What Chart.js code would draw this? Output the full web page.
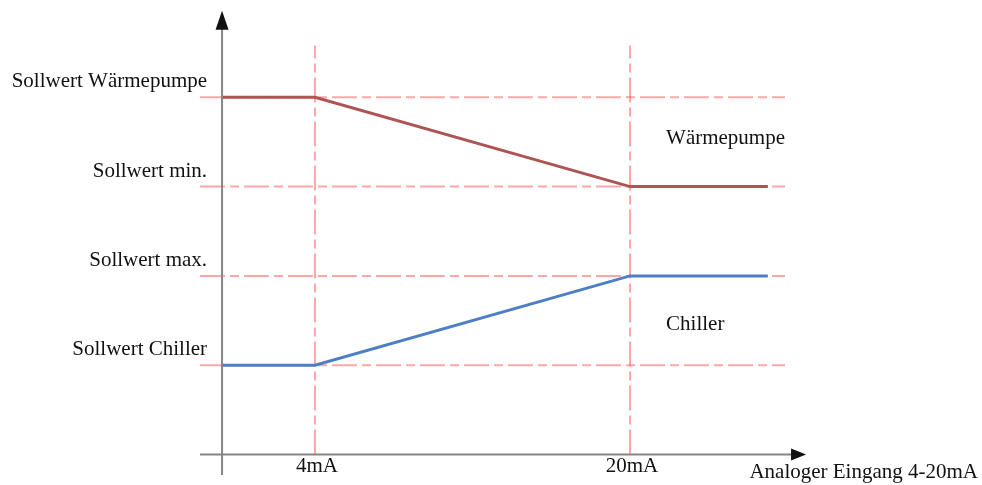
<!DOCTYPE html>
<html>
<head>
<meta charset="utf-8">
<script src="https://cdn.jsdelivr.net/npm/chart.js@4/dist/chart.umd.min.js"></script>
<style>
  html, body { margin: 0; padding: 0; background: #ffffff; }
  #wrap { width: 982px; height: 485px; }
</style>
</head>
<body>
<div id="wrap"><canvas id="chart" width="982" height="485"></canvas></div>
<script>
// Input current (mA) on x, setpoint levels on y (1 = Chiller ... 4 = Wärmepumpe)
const X_MIN = -1.84, X_MAX = 29.14;
const Y_MIN = -0.23, Y_MAX = 5.0;
const X_ORIGIN = -0.72;          // where the vertical axis crosses
const X_ARROW = 28.94;           // tip of the horizontal axis arrow
const Y_ARROW = 4.97;            // tip of the vertical axis arrow
const X_LINE_END = 27.0;         // end of the characteristic curves
const X_GUIDE_END = 27.87;       // end of the horizontal guide lines
const Y_GUIDE_TOP = 4.58;        // top of the vertical guide lines

const xTicks = [4, 20];
const xTickLabels = ['4mA', '20mA'];
const xTitle = 'Analoger Eingang 4-20mA';

const levels = [4, 3, 2, 1];
const levelLabels = ['Sollwert Wärmepumpe', 'Sollwert min.', 'Sollwert max.', 'Sollwert Chiller'];

const waermepumpeX = [X_ORIGIN, 4, 20, X_LINE_END];
const waermepumpeY = [4, 4, 3, 3];
const chillerX = [X_ORIGIN, 4, 20, X_LINE_END];
const chillerY = [1, 1, 2, 2];

const regionLabels = ['Wärmepumpe', 'Chiller'];
const regionX = [21.83, 21.83];
const regionY = [3.48, 1.39];

const GUIDE = 'rgba(255, 95, 95, 0.55)';
const GUIDE_DASH = [25, 5, 9, 5];
const FONT = '21px "Liberation Serif", "Times New Roman", serif';

const toPts = (xs, ys) => xs.map((x, i) => ({ x, y: ys[i] }));

// curves first so they are painted above the guide lines
const datasets = [];
datasets.push({
  label: 'Wärmepumpe', data: toPts(waermepumpeX, waermepumpeY),
  borderColor: '#ad5454', borderWidth: 3
});
datasets.push({
  label: 'Chiller', data: toPts(chillerX, chillerY),
  borderColor: '#4d7fc6', borderWidth: 3
});
levels.forEach(v => datasets.push({
  data: [{ x: X_MIN, y: v }, { x: X_GUIDE_END, y: v }],
  borderColor: GUIDE, borderWidth: 2, borderDash: GUIDE_DASH
}));
xTicks.forEach(v => datasets.push({
  data: [{ x: v, y: 0 }, { x: v, y: Y_GUIDE_TOP }],
  borderColor: GUIDE, borderWidth: 2, borderDash: GUIDE_DASH
}));

// Axes with arrowheads and all annotation text
const decor = {
  id: 'decor',
  afterDatasetsDraw(chart) {
    const ctx = chart.ctx;
    const xs = chart.scales.x, ys = chart.scales.y;
    const ox = xs.getPixelForValue(X_ORIGIN);
    const oy = ys.getPixelForValue(0);
    ctx.save();
    ctx.strokeStyle = '#858585';
    ctx.fillStyle = '#111111';
    ctx.lineWidth = 2;
    // vertical axis
    const yTip = ys.getPixelForValue(Y_ARROW);
    ctx.beginPath();
    ctx.moveTo(ox, ys.getPixelForValue(Y_MIN));
    ctx.lineTo(ox, yTip + 12);
    ctx.stroke();
    ctx.beginPath();
    ctx.moveTo(ox, yTip);
    ctx.lineTo(ox - 6.5, yTip + 19);
    ctx.lineTo(ox + 6.5, yTip + 19);
    ctx.closePath();
    ctx.fill();
    // horizontal axis
    const xTip = xs.getPixelForValue(X_ARROW);
    ctx.beginPath();
    ctx.moveTo(xs.getPixelForValue(X_MIN), oy);
    ctx.lineTo(xTip - 10, oy);
    ctx.stroke();
    ctx.beginPath();
    ctx.moveTo(xTip, oy);
    ctx.lineTo(xTip - 15, oy - 6);
    ctx.lineTo(xTip - 15, oy + 6);
    ctx.closePath();
    ctx.fill();

    ctx.font = FONT;
    ctx.fillStyle = '#111111';
    ctx.textBaseline = 'alphabetic';
    // level labels left of the vertical axis
    ctx.textAlign = 'right';
    levels.forEach((v, i) => {
      ctx.fillText(levelLabels[i], ox - 15, ys.getPixelForValue(v) - 10);
    });
    // tick labels under the horizontal axis
    ctx.textAlign = 'center';
    xTicks.forEach((v, i) => {
      ctx.fillText(xTickLabels[i], xs.getPixelForValue(v) + 2, oy + 18);
    });
    // axis title
    ctx.textAlign = 'right';
    ctx.fillText(xTitle, chart.width - 4, oy + 24);
    // region labels
    ctx.textAlign = 'left';
    regionLabels.forEach((t, i) => {
      ctx.fillText(t, xs.getPixelForValue(regionX[i]), ys.getPixelForValue(regionY[i]));
    });
    ctx.restore();
  }
};

new Chart(document.getElementById('chart'), {
  type: 'line',
  data: { datasets },
  options: {
    responsive: false,
    animation: false,
    devicePixelRatio: 1,
    layout: { padding: { left: 200, right: 172, top: 8, bottom: 10 } },
    elements: { point: { radius: 0 }, line: { tension: 0 } },
    plugins: { legend: { display: false }, tooltip: { enabled: false } },
    scales: {
      x: { type: 'linear', min: X_MIN, max: X_MAX, display: false },
      y: { type: 'linear', min: Y_MIN, max: Y_MAX, display: false }
    }
  },
  plugins: [decor]
});
</script>
</body>
</html>
